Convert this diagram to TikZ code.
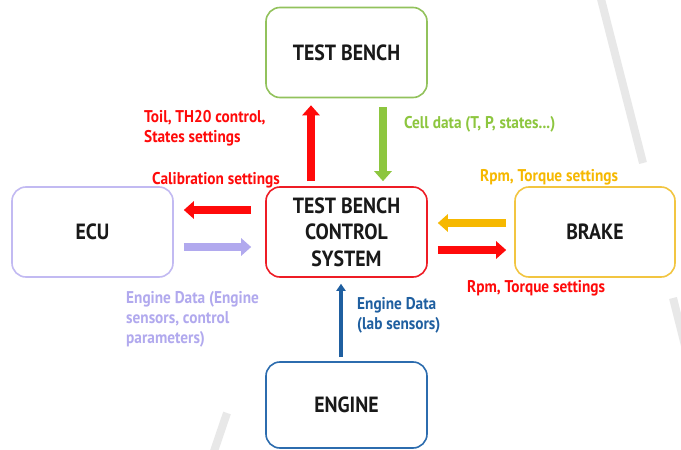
\documentclass[tikz,border=0pt]{standalone}
\usepackage{fontspec}
\setmainfont{PT Sans}[FakeStretch=0.9]
\usetikzlibrary{arrows.meta}
\definecolor{cgreen}{HTML}{8DC63F}
\definecolor{cgreenbox}{HTML}{92C25C}
\definecolor{cred}{HTML}{FF0A0A}
\definecolor{credbox}{HTML}{EE1C25}
\definecolor{clav}{HTML}{B1A9EE}
\definecolor{clavbox}{HTML}{C2BAF2}
\definecolor{cyel}{HTML}{F6B800}
\definecolor{cyelbox}{HTML}{F2C541}
\definecolor{cblue}{HTML}{1F5FA0}
\definecolor{cbluebox}{HTML}{2C6CAE}
\definecolor{cdeco}{HTML}{E8E8E8}
\begin{document}
\begin{tikzpicture}[x=1pt,y=-1pt,
  box/.style={draw, rounded corners=14pt, line width=1.6pt, minimum width=161pt, minimum height=90pt,
    font=\fontsize{22}{26.5}\selectfont\bfseries, align=center, inner sep=0pt, text=black!90},
  lbl/.style={font=\fontsize{17}{20}\selectfont\bfseries, align=left, anchor=west, inner sep=0pt},
  fat/.style={line width=8pt, -{Triangle[length=10pt,width=17pt]}},
  slim/.style={line width=3.5pt, -{Triangle[length=7pt,width=9pt]}},
  deco/.style={line width=8pt, draw=cdeco}]
\clip (0,0) rectangle (681,450);
\fill[white] (0,0) rectangle (681,450);
% decorative slashes
\draw[deco] (600,-5) -- (643,163);
\draw[deco] (673,298) -- (700,405);
\draw[deco] (227,413) -- (211,460);
% boxes
\node[box, draw=cgreenbox] (tb) at (346.5,52.5) {TEST BENCH};
\node[box, draw=credbox] (ctr) at (346.5,232) {TEST BENCH\\CONTROL\\SYSTEM};
\node[box, draw=clavbox] (ecu) at (92.5,232) {ECU};
\node[box, draw=cyelbox, minimum width=160pt] (brake) at (595,232) {BRAKE};
\node[box, draw=cbluebox, minimum height=86pt] (eng) at (346.5,405) {ENGINE};
% arrows
\draw[fat, draw=cred] ([xshift=-35.5pt,yshift=5pt]ctr.north) -- ([xshift=-35.5pt,yshift=-7pt]tb.south);
\draw[fat, draw=cgreen] ([xshift=36.5pt,yshift=-9pt]tb.south) -- ([xshift=36.5pt,yshift=5pt]ctr.north);
\draw[fat, draw=cred] ([xshift=-14pt,yshift=22pt]ctr.west) -- ([xshift=10pt,yshift=22pt]ecu.east);
\draw[fat, draw=clav] ([xshift=10pt,yshift=-15pt]ecu.east) -- ([xshift=-14pt,yshift=-15pt]ctr.west);
\draw[fat, draw=cyel] ([xshift=-8pt,yshift=9pt]brake.west) -- ([xshift=10pt,yshift=9pt]ctr.east);
\draw[fat, draw=cred] ([xshift=10pt,yshift=-18pt]ctr.east) -- ([xshift=-8pt,yshift=-18pt]brake.west);
\draw[slim, draw=cblue] ([xshift=-5.5pt,yshift=4pt]eng.north) -- ([xshift=-5.5pt,yshift=-6pt]ctr.south);
% labels
\node[lbl, text=cred] (l1) at (144,128) {Toil, TH20 control,\\States settings};
\node[lbl, text=cred] (l2) at (152,180) {Calibration settings};
\node[lbl, text=cgreen] (l3) at (404,124) {Cell data (T, P, states...)};
\node[lbl, text=cyel] (l4) at (480,177) {Rpm, Torque settings};
\node[lbl, text=cred] (l5) at (467,288) {Rpm, Torque settings};
\node[lbl, text=clav] (l6) at (126,319) {Engine Data (Engine\\sensors, control\\parameters)};
\node[lbl, text=cblue] (l7) at (357,315) {Engine Data\\(lab sensors)};
\end{tikzpicture}
\end{document}
